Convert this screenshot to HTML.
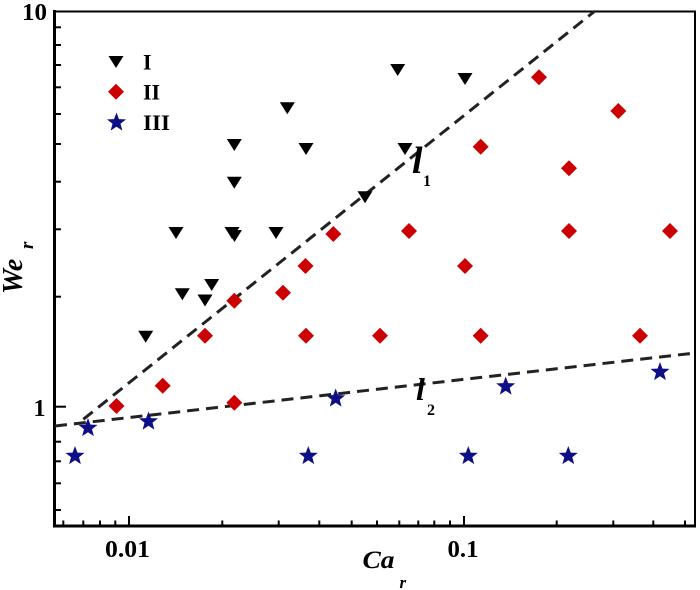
<!DOCTYPE html>
<html>
<head>
<meta charset="utf-8">
<style>
  html,body{margin:0;padding:0;background:#fff;}
  svg{display:block;}
  text{font-family:"Liberation Serif","Times New Roman",serif;fill:#000;}
</style>
</head>
<body>
<svg width="700" height="590" viewBox="0 0 700 590" xmlns="http://www.w3.org/2000/svg">
  <defs>
    <polygon id="tri" points="-7.5,-6 7.5,-6 0,6" fill="#000"/>
    <polygon id="dia" points="0,-8 8,0 0,8 -8,0" fill="#cc0000"/>
    <polygon id="star" fill="#0f0f85" points="0,-10 2.47,-3.4 9.51,-3.09 4,1.3 5.88,8.09 0,4.2 -5.88,8.09 -4,1.3 -9.51,-3.09 -2.47,-3.4"/>
  </defs>

  <!-- frame -->
  <line x1="54.5" y1="10" x2="54.5" y2="527.5" stroke="#000" stroke-width="3"/>
  <line x1="53" y1="526" x2="696" y2="526" stroke="#000" stroke-width="3"/>
  <line x1="54" y1="11.5" x2="696" y2="11.5" stroke="#000" stroke-width="2"/>
  <line x1="695" y1="11" x2="695" y2="527" stroke="#000" stroke-width="2"/>

  <!-- x ticks -->
  <g stroke="#000" stroke-width="2">
    <line x1="63.3" y1="526" x2="63.3" y2="520.5"/>
    <line x1="83.3" y1="526" x2="83.3" y2="520.5"/>
    <line x1="100" y1="526" x2="100" y2="520.5"/>
    <line x1="115.3" y1="526" x2="115.3" y2="520.5"/>
    <line x1="129" y1="526" x2="129" y2="516"/>
    <line x1="222.3" y1="526" x2="222.3" y2="520.5"/>
    <line x1="278.7" y1="526" x2="278.7" y2="520.5"/>
    <line x1="319.3" y1="526" x2="319.3" y2="520.5"/>
    <line x1="351.7" y1="526" x2="351.7" y2="520.5"/>
    <line x1="377" y1="526" x2="377" y2="520.5"/>
    <line x1="399.3" y1="526" x2="399.3" y2="520.5"/>
    <line x1="418.3" y1="526" x2="418.3" y2="520.5"/>
    <line x1="434.3" y1="526" x2="434.3" y2="520.5"/>
    <line x1="450" y1="526" x2="450" y2="520.5"/>
    <line x1="464" y1="526" x2="464" y2="516"/>
    <line x1="556.7" y1="526" x2="556.7" y2="520.5"/>
    <line x1="613.3" y1="526" x2="613.3" y2="520.5"/>
    <line x1="653.3" y1="526" x2="653.3" y2="520.5"/>
    <line x1="685" y1="526" x2="685" y2="520.5"/>
  </g>

  <!-- y ticks -->
  <g stroke="#000" stroke-width="2">
    <line x1="54" y1="27.3" x2="61" y2="27.3"/>
    <line x1="54" y1="45" x2="61" y2="45"/>
    <line x1="54" y1="65" x2="61" y2="65"/>
    <line x1="54" y1="87.3" x2="61" y2="87.3"/>
    <line x1="54" y1="114" x2="61" y2="114"/>
    <line x1="54" y1="144" x2="61" y2="144"/>
    <line x1="54" y1="181.7" x2="61" y2="181.7"/>
    <line x1="54" y1="229.3" x2="61" y2="229.3"/>
    <line x1="54" y1="296.7" x2="61" y2="296.7"/>
    <line x1="54" y1="406.7" x2="66" y2="406.7"/>
    <line x1="54" y1="441.7" x2="61" y2="441.7"/>
    <line x1="54" y1="461.3" x2="61" y2="461.3"/>
    <line x1="54" y1="483.3" x2="61" y2="483.3"/>
    <line x1="54" y1="510" x2="61" y2="510"/>
  </g>

  <!-- tick labels -->
  <g font-size="24" font-weight="bold">
    <text x="47" y="20" text-anchor="end" textLength="25" lengthAdjust="spacingAndGlyphs">10</text>
    <text x="45.5" y="416" text-anchor="end">1</text>
    <text x="105" y="557" textLength="45" lengthAdjust="spacingAndGlyphs">0.01</text>
    <text x="447.5" y="557" textLength="31" lengthAdjust="spacingAndGlyphs">0.1</text>
  </g>

  <!-- axis titles -->
  <text x="362.5" y="568" font-size="25" font-weight="bold" font-style="italic" textLength="32" lengthAdjust="spacingAndGlyphs">Ca</text>
  <text x="399.5" y="588" font-size="17" font-weight="bold" font-style="italic">r</text>
  <text transform="translate(22,294) rotate(-90)" font-size="28" font-weight="bold" font-style="italic">We</text>
  <text transform="translate(33,249) rotate(-90)" font-size="19" font-weight="bold" font-style="italic">r</text>

  <!-- dashed lines -->
  <g stroke="#222" stroke-width="3" stroke-dasharray="12 7" fill="none">
    <line x1="83.3" y1="419.3" x2="595" y2="11"/>
    <line x1="55" y1="426" x2="695" y2="353"/>
  </g>

  <!-- line labels -->
  <text x="412" y="173" font-size="38" font-weight="bold" font-style="italic">l</text>
  <text x="423" y="186" font-size="16" font-weight="bold">1</text>
  <text x="416" y="400" font-size="32" font-weight="bold" font-style="italic">l</text>
  <text x="427" y="415" font-size="16" font-weight="bold">2</text>

  <!-- legend -->
  <use href="#tri" x="116" y="62"/>
  <use href="#dia" x="116" y="91.7"/>
  <use href="#star" x="116.5" y="122.5"/>
  <g font-size="22" font-weight="bold">
    <text x="143" y="69.5">I</text>
    <text x="143" y="99.5">II</text>
    <text x="143" y="130" textLength="27" lengthAdjust="spacingAndGlyphs">III</text>
  </g>

  <!-- Regime I: triangles -->
  <use href="#tri" x="287.3" y="108.3"/>
  <use href="#tri" x="234.3" y="145"/>
  <use href="#tri" x="306" y="149"/>
  <use href="#tri" x="234.3" y="182.7"/>
  <use href="#tri" x="176" y="233"/>
  <use href="#tri" x="232" y="233"/>
  <use href="#tri" x="234.5" y="236"/>
  <use href="#tri" x="276" y="233"/>
  <use href="#tri" x="182.3" y="294.3"/>
  <use href="#tri" x="211.7" y="285"/>
  <use href="#tri" x="205" y="300.5"/>
  <use href="#tri" x="145.7" y="336.7"/>
  <use href="#tri" x="397.7" y="70"/>
  <use href="#tri" x="465" y="79"/>
  <use href="#tri" x="405" y="149"/>
  <use href="#tri" x="365" y="197.3"/>

  <!-- Regime II: diamonds -->
  <use href="#dia" x="333.3" y="234"/>
  <use href="#dia" x="305.5" y="266"/>
  <use href="#dia" x="283" y="292.7"/>
  <use href="#dia" x="234.3" y="300.7"/>
  <use href="#dia" x="205" y="335.7"/>
  <use href="#dia" x="162.7" y="385.7"/>
  <use href="#dia" x="116.5" y="406"/>
  <use href="#dia" x="234.3" y="402.7"/>
  <use href="#dia" x="306" y="335.7"/>
  <use href="#dia" x="539" y="77.3"/>
  <use href="#dia" x="618.3" y="111"/>
  <use href="#dia" x="480.7" y="146.7"/>
  <use href="#dia" x="569" y="168.3"/>
  <use href="#dia" x="409" y="231"/>
  <use href="#dia" x="569" y="231"/>
  <use href="#dia" x="670" y="231"/>
  <use href="#dia" x="465" y="266"/>
  <use href="#dia" x="380" y="335.7"/>
  <use href="#dia" x="480.7" y="335.7"/>
  <use href="#dia" x="640" y="335.7"/>

  <!-- Regime III: stars -->
  <use href="#star" x="75" y="456"/>
  <use href="#star" x="88" y="428"/>
  <use href="#star" x="148.5" y="421.5"/>
  <use href="#star" x="308.3" y="456"/>
  <use href="#star" x="335.7" y="398.5"/>
  <use href="#star" x="505.7" y="386.5"/>
  <use href="#star" x="660" y="372"/>
  <use href="#star" x="468.3" y="456"/>
  <use href="#star" x="568.3" y="456"/>
</svg>
</body>
</html>
